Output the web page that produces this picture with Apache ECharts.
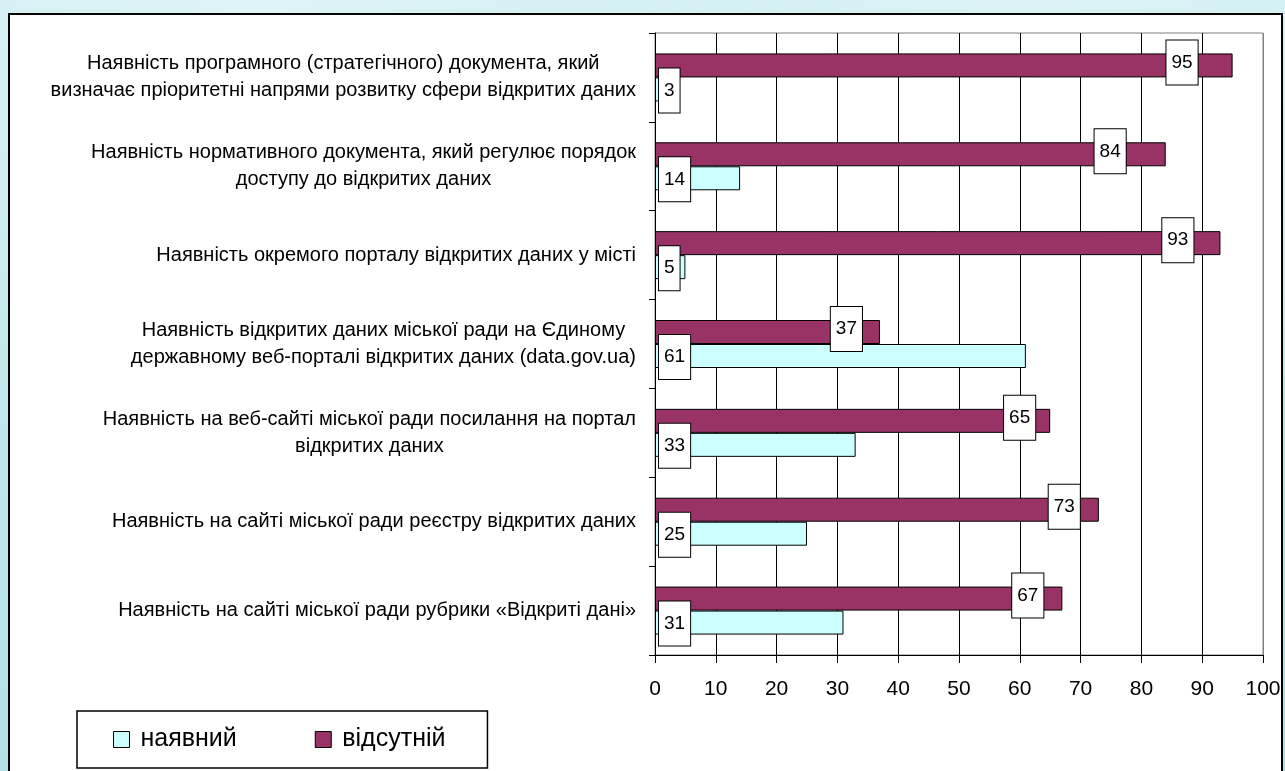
<!DOCTYPE html>
<html>
<head>
<meta charset="utf-8">
<script src="https://cdn.jsdelivr.net/npm/echarts@6.0.0/dist/echarts.min.js"></script>
<style>
  html, body { margin: 0; padding: 0; width: 1285px; height: 771px; overflow: hidden; }
  body {
    background:
      radial-gradient(ellipse at 20% 0%, rgba(255,255,255,0.35), rgba(255,255,255,0) 40%),
      radial-gradient(ellipse at 80% 0%, rgba(255,255,255,0.3), rgba(255,255,255,0) 35%),
      linear-gradient(180deg, #cdeef1 0%, #b3e0e5 100%);
  }
  #chart { width: 1285px; height: 771px; }
</style>
</head>
<body>
<div id="chart"></div>
<script>
// ---- data ----
const categories = [
  'Наявність програмного (стратегічного) документа, який\nвизначає пріоритетні напрями розвитку сфери відкритих даних',
  'Наявність нормативного документа, який регулює порядок\nдоступу до відкритих даних',
  'Наявність окремого порталу відкритих даних у місті',
  'Наявність відкритих даних міської ради на Єдиному\nдержавному веб-порталі відкритих даних (data.gov.ua)',
  'Наявність на веб-сайті міської ради посилання на портал\nвідкритих даних',
  'Наявність на сайті міської ради реєстру відкритих даних',
  'Наявність на сайті міської ради рубрики «Відкриті дані»'
];
const seriesNames = ['наявний', 'відсутній'];
const present = [3, 14, 5, 61, 33, 25, 31];
const absent = [95, 84, 93, 37, 65, 73, 67];
const xTicks = { min: 0, max: 100, interval: 10 };

// ---- style (label placement for the "absent" series, as in the original) ----
const absentLabelDistance = [35, 40, 27, 18, 15, 19, 19];

const FONT = '"Liberation Sans", Arial, sans-serif';
const labelBox = {
  show: true,
  color: '#000',
  fontFamily: FONT,
  fontSize: 19,
  lineHeight: 21,
  backgroundColor: '#fff',
  borderColor: '#000',
  borderWidth: 1,
  padding: [12, 5, 11, 5]
};

const chart = echarts.init(document.getElementById('chart'), null, { renderer: 'canvas' });
const splitColors = [];
for (let v = xTicks.min; v <= xTicks.max; v += xTicks.interval) {
  splitColors.push(v === xTicks.max ? '#808080' : '#000');
}

chart.setOption({
  animation: false,
  backgroundColor: 'transparent',
  graphic: {
    elements: [{
      type: 'rect',
      z: -10,
      shape: { x: 9, y: 14, width: 1273, height: 780 },
      style: { fill: '#fff', stroke: '#000', lineWidth: 2 }
    }]
  },
  legend: {
    data: seriesNames,
    left: 77,
    top: 711,
    orient: 'horizontal',
    backgroundColor: '#fff',
    borderColor: '#000',
    borderWidth: 1.5,
    padding: [16, 42, 16, 36],
    itemGap: 78,
    itemWidth: 16,
    itemHeight: 16,
    icon: 'rect',
    itemStyle: { borderColor: '#000', borderWidth: 1 },
    textStyle: { fontFamily: FONT, fontSize: 25, color: '#000', padding: [0, 0, 0, 6] }
  },
  grid: {
    left: 655, right: 22, top: 33, bottom: 116,
    show: true, borderColor: '#808080', borderWidth: 1, backgroundColor: 'transparent',
    containLabel: false
  },
  xAxis: {
    type: 'value',
    min: xTicks.min, max: xTicks.max, interval: xTicks.interval,
    axisLine: { show: true, lineStyle: { color: '#000', width: 1 } },
    axisTick: { show: true, length: 8, lineStyle: { color: '#000' } },
    axisLabel: { fontFamily: FONT, fontSize: 21, color: '#000', margin: 24 },
    splitLine: { show: true, showMinLine: true, showMaxLine: true, lineStyle: { color: splitColors, width: 1 } }
  },
  yAxis: {
    type: 'category',
    inverse: true,
    data: categories,
    axisLine: { show: true, lineStyle: { color: '#000', width: 1 } },
    axisTick: { show: true, length: 6, lineStyle: { color: '#000' } },
    axisLabel: {
      margin: 19,
      color: '#000',
      fontFamily: FONT,
      fontSize: 20,
      lineHeight: 27,
      align: 'right',
      formatter: function (v) {
        return v.split('\n').map(l => '{c|' + l + '}').join('\n');
      },
      rich: {
        c: { align: 'center', fontFamily: FONT, fontSize: 20, lineHeight: 27, color: '#000' }
      }
    },
    splitLine: { show: false }
  },
  series: [
    {
      name: seriesNames[1],
      type: 'bar',
      data: absent.map((v, i) => ({
        value: v,
        label: Object.assign({}, labelBox, { position: 'insideRight', distance: absentLabelDistance[i], offset: [0, -3] })
      })),
      barWidth: 24,
      barGap: '0%',
      itemStyle: { color: '#993366', borderColor: '#000', borderWidth: 1 }
    },
    {
      name: seriesNames[0],
      type: 'bar',
      data: present,
      barWidth: 24,
      barGap: '0%',
      itemStyle: { color: '#ccffff', borderColor: '#000', borderWidth: 1 },
      label: Object.assign({}, labelBox, { position: 'insideLeft', distance: 4, offset: [0, 1] })
    }
  ]
});
</script>
</body>
</html>
